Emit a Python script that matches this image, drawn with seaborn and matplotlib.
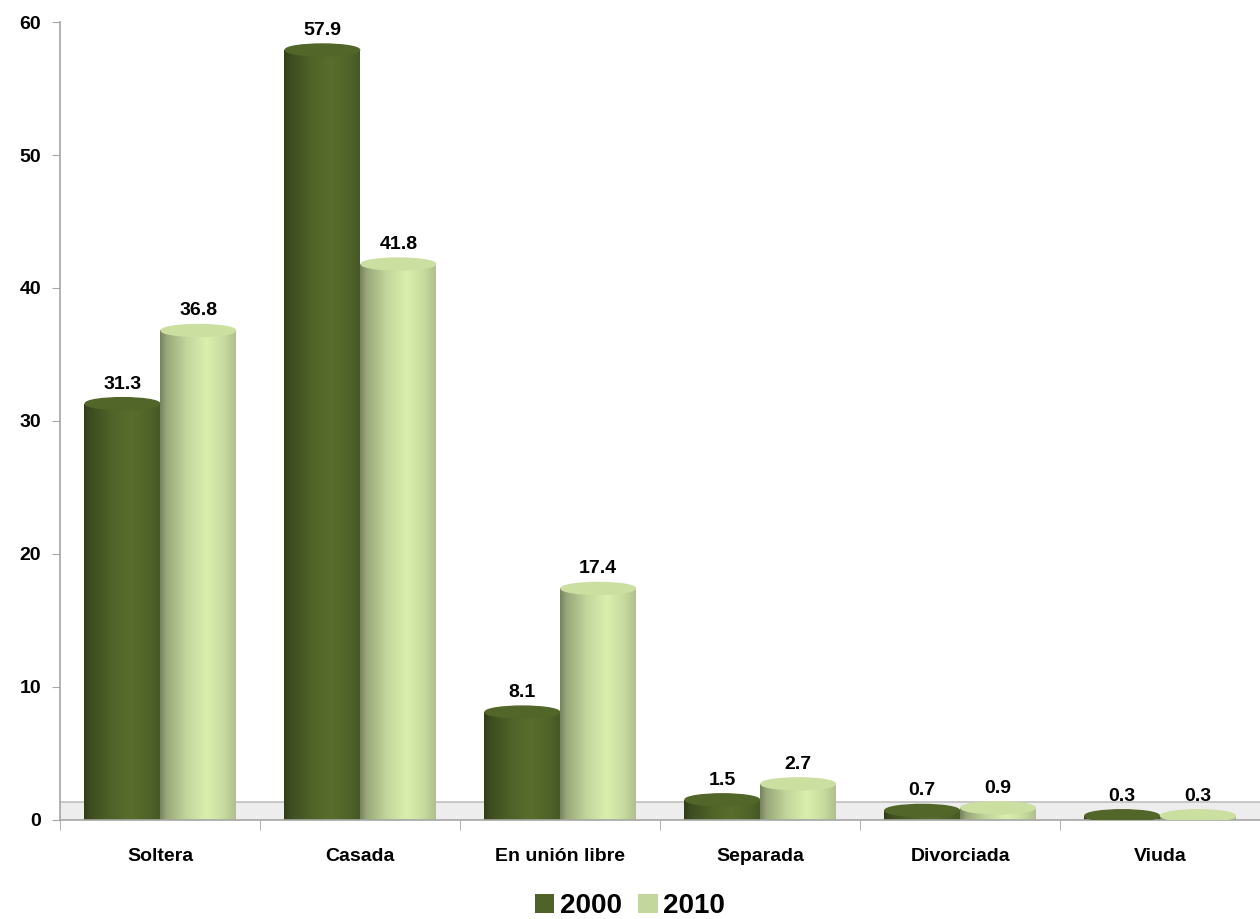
import numpy as np
import pandas as pd
import matplotlib
matplotlib.use('Agg')
import matplotlib.pyplot as plt
import seaborn as sns
from matplotlib.colors import to_rgb
from matplotlib.patches import Ellipse
from matplotlib.ticker import FixedLocator


categories = ['Soltera', 'Casada', 'En unión libre', 'Separada', 'Divorciada', 'Viuda']
years = ['2000', '2010']
values_2000 = [31.3, 57.9, 8.1, 1.5, 0.7, 0.3]
values_2010 = [36.8, 41.8, 17.4, 2.7, 0.9, 0.3]
colors = ['#4F6228', '#C3D69B']

df = pd.DataFrame({
    'Estado': categories * 2,
    'Año': [years[0]] * len(categories) + [years[1]] * len(categories),
    'Valor': values_2000 + values_2010,
})

sns.set_style('white')
plt.rcParams['font.family'] = ['Liberation Sans', 'DejaVu Sans']
plt.rcParams['font.weight'] = 'bold'
plt.rcParams['text.color'] = 'black'
plt.rcParams['xtick.color'] = 'black'
plt.rcParams['ytick.color'] = 'black'

fig = plt.figure(figsize=(12.6, 9.19), dpi=100)
ax = fig.add_axes([0.048, 0.108, 0.952, 0.868])

sns.barplot(data=df, x='Estado', y='Valor', hue='Año', palette=colors,
            width=0.76, gap=0.0, ax=ax, saturation=1, edgecolor='none')

# 3D-ish floor band
ax.axhspan(0, 1.3, color='#EDEDED', zorder=0)
ax.axhline(1.3, color='#BFBFBF', lw=1.2, zorder=0.5)


def shade(base):
    # cylinder-like horizontal gradient: dark left edge, highlight right of centre
    c = np.array(to_rgb(base))
    t = np.linspace(0, 1, 64)
    f = np.interp(t, [0, 0.08, 0.35, 0.62, 0.85, 1.0],
                  [0.62, 0.78, 1.0, 1.12, 1.02, 0.9])
    rgb = np.clip(c[None, :] * f[:, None], 0, 1)
    return rgb[None, :, :]


for cont, base in zip(ax.containers, colors):
    grad = shade(base)
    top = np.clip(np.array(to_rgb(base)) * 1.04, 0, 1)
    for p in cont.patches:
        x, w, h = p.get_x(), p.get_width(), p.get_height()
        im = ax.imshow(grad, extent=[x, x + w, 0, h], aspect='auto',
                       zorder=2, interpolation='bicubic')
        im.set_clip_path(p)
        ax.add_patch(Ellipse((x + w / 2, h), w * 0.98, 0.9, color=top, zorder=3))
    ax.bar_label(cont, fmt='%.1f', padding=8, fontsize=14, fontweight='bold',
                 color='black', clip_on=False)

ax.set_xlim(-0.5, 5.5)
ax.set_ylim(0, 60)
ax.set_yticks(range(0, 61, 10))
ax.set_xlabel('')
ax.set_ylabel('')

for s in ['top', 'right']:
    ax.spines[s].set_visible(False)
for s in ['left', 'bottom']:
    ax.spines[s].set_color('#A6A6A6')
    ax.spines[s].set_linewidth(1.2)

ax.tick_params(axis='y', length=6, color='#A6A6A6', labelcolor='black', labelsize=14, pad=8, left=True)
ax.tick_params(axis='x', which='major', length=0, labelcolor='black', labelsize=14, pad=20)
ax.xaxis.set_minor_locator(FixedLocator([i - 0.5 for i in range(len(categories) + 1)]))
ax.tick_params(axis='x', which='minor', length=7, color='#A6A6A6', bottom=True)
for lab in ax.get_xticklabels() + ax.get_yticklabels():
    lab.set_fontweight('bold')

handles, labels = ax.get_legend_handles_labels()
ax.get_legend().remove()
fig.legend(handles, labels, loc='center', bbox_to_anchor=(0.5, 0.014), ncol=2, frameon=False,
           prop={'size': 20, 'weight': 'bold'}, handlelength=0.7, handleheight=0.7,
           handletextpad=0.2, columnspacing=0.6, borderpad=0.1)

fig.savefig('out.png', dpi=100)
